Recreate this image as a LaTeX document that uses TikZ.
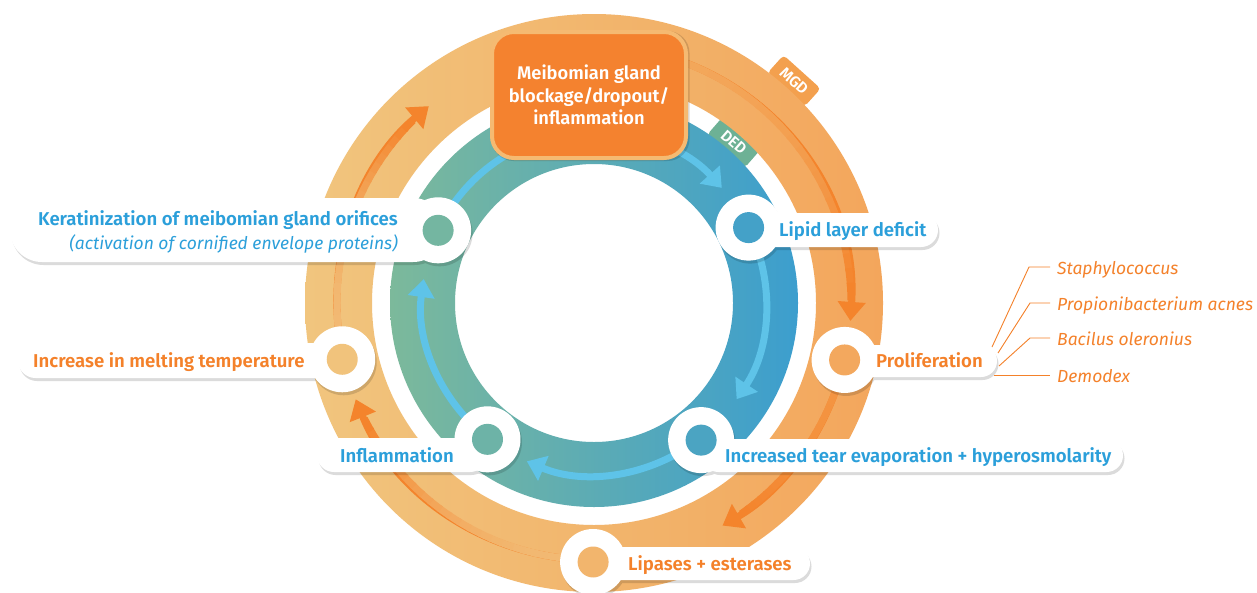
\documentclass[tikz,border=0pt]{standalone}
\usepackage{fontspec}
\setmainfont{Fira Sans}[BoldFont={Fira Sans SemiBold}, BoldItalicFont={Fira Sans SemiBold Italic}]
\usetikzlibrary{arrows.meta}
\definecolor{orL}{HTML}{F1C57E}
\definecolor{orR}{HTML}{F3A65C}
\definecolor{orTrk}{HTML}{F4842C}
\definecolor{orTrkL}{HTML}{F2BA74}
\definecolor{tealL}{HTML}{7CB99B}
\definecolor{tealR}{HTML}{3C9ECE}
\definecolor{bluTrk}{HTML}{5EC3E8}
\definecolor{tBlue}{HTML}{2B9FDA}
\definecolor{tOrange}{HTML}{F4812A}
\definecolor{boxFill}{HTML}{F4822F}
\definecolor{boxLine}{HTML}{F5BA72}
\definecolor{mgdC}{HTML}{F3A04E}
\definecolor{dedC}{HTML}{6DB195}
\newcommand\orarc[4]{%
  \draw[line width=7pt, orTrk, -{Triangle[width=27pt,length=19pt]}] (#2:#1) arc[start angle=#2, end angle=#3, radius=#1];
  \pgfmathsetmacro\myaend{#3+19/#1*57.3+1}
  \foreach \k in {0,...,23}{
    \pgfmathsetmacro\mysa{#2+(\myaend-#2)*\k/24}
    \pgfmathsetmacro\myea{#2+(\myaend-#2)*(\k+1.2)/24}
    \pgfmathtruncatemacro\myp{#4+(100-#4)*(\k/23)^2}
    \draw[line width=7pt, orTrk!\myp!orTrkL] (\mysa:#1) arc[start angle=\mysa, end angle=\myea, radius=#1];
  }
}
\begin{document}
\begin{tikzpicture}[x=1pt,y=-1pt,
  hub/.style={circle, fill=white, minimum size=66pt, inner sep=0pt},
  dot/.style={circle, minimum size=31pt, inner sep=0pt},
  lbl/.style={font=\fontsize{18.6}{20}\selectfont\bfseries, inner sep=0pt},
  bug/.style={font=\fontsize{17.5}{20}\selectfont\itshape, text=tOrange, inner sep=0pt, anchor=base west},
  tabbox/.style={rounded corners=4pt, minimum width=50pt, minimum height=24pt, inner sep=0pt, text=white, font=\fontsize{15.5}{15.5}\selectfont\bfseries},
  trkB/.style={line width=7pt, bluTrk, -{Triangle[width=26pt,length=18pt]}},
  link/.style={tOrange, line width=0.9pt},
  topbox/.style={draw=boxLine, line width=4pt, fill=boxFill, rounded corners=22pt, minimum width=194pt, minimum height=126pt, align=center, text=white, font=\fontsize{18.3}{22.5}\selectfont\bfseries}
]
\useasboundingbox (0,0) rectangle (1257,592);
\fill[white] (0,0) rectangle (1257,592);

\begin{scope}[shift={(594,303)}, y=1pt]
  \coordinate (kerat) at (155:172);
  \coordinate (lipid) at (26:172);
  \coordinate (tear) at (-52:174);
  \coordinate (inflam) at (232:173);
  \coordinate (melt) at (192.6:258);
  \coordinate (prolif) at (-12.8:257);
  \coordinate (lipase) at (-90.2:259);
  \node[tabbox, fill=mgdC, rotate=-42] (mgd) at (48:299) {MGD};
  \node[tabbox, fill=dedC, rotate=-41] (ded) at (49:213) {DED};
  \shade[left color=orL, right color=orR, even odd rule] (0,0) circle[radius=289] (0,0) circle[radius=222];
  \shade[left color=tealL, right color=tealR, even odd rule] (0,0) circle[radius=204] (0,0) circle[radius=139];
  \orarc{257}{80}{-4}{35}
  \orarc{257}{-13}{-60}{70}
  \orarc{257}{-90}{-158}{0}
  \orarc{257}{192}{130}{0}
  \draw[trkB] (155:172) arc[start angle=155, end angle=42, radius=172];
  \draw[trkB] (26:172) arc[start angle=26, end angle=-34, radius=172];
  \draw[trkB] (-52:172) arc[start angle=-52, end angle=-113, radius=172];
  \draw[trkB] (232:172) arc[start angle=232, end angle=172, radius=172];
\end{scope}

% shadows
\begin{scope}[transparency group, opacity=0.14]
  \begin{scope}[shift={(1.5,3)}]
    \fill[black, rounded corners=32pt] (10,198) rectangle (445,262);
    \fill[black, rounded corners=17.5pt] (18,343) rectangle (340,378);
    \fill[black, rounded corners=17pt] (748,213) rectangle (938,247);
    \fill[black, rounded corners=16pt] (845,345) rectangle (997,377);
    \fill[black, rounded corners=16.5pt] (702,439) rectangle (1123,472);
    \fill[black, rounded corners=17pt] (317,438) rectangle (487,472);
    \fill[black, rounded corners=16.5pt] (593,547) rectangle (810,580);
    \fill[black, rounded corners=22pt] (490,28) rectangle (688,158);
  \end{scope}
  \foreach \c in {kerat,lipid,tear,inflam,melt,prolif,lipase}{
    \fill[black] (\c) ++(1.5,3) circle[radius=33];
  }
\end{scope}

% top box
\node[topbox] (top) at (589,95) {Meibomian gland\\blockage/dropout/\\inflammation};

% pills
\fill[white, rounded corners=32pt] (10,198) rectangle (445,262);
\fill[white, rounded corners=17.5pt] (18,343) rectangle (340,378);
\fill[white, rounded corners=17pt] (748,213) rectangle (938,247);
\fill[white, rounded corners=16pt] (845,345) rectangle (997,377);
\fill[white, rounded corners=16.5pt] (702,439) rectangle (1123,472);
\fill[white, rounded corners=17pt] (317,438) rectangle (487,472);
\fill[white, rounded corners=16.5pt] (593,547) rectangle (810,580);

% hubs and dots
\node[hub] (keratH) at (kerat) {};
\node[hub] (lipidH) at (lipid) {};
\node[hub] (tearH) at (tear) {};
\node[hub] (inflamH) at (inflam) {};
\node[hub] (meltH) at (melt) {};
\node[hub] (prolifH) at (prolif) {};
\node[hub] (lipaseH) at (lipase) {};
\node[dot, fill=tealR!12!tealL] (keratD) at (kerat) {};
\node[dot, fill=tealR!88!tealL] (lipidD) at (lipid) {};
\node[dot, fill=tealR!76!tealL] (tearD) at (tear) {};
\node[dot, fill=tealR!24!tealL] (inflamD) at (inflam) {};
\node[dot, fill=orR!6!orL] (meltD) at (melt) {};
\node[dot, fill=orR!93!orL] (prolifD) at (prolif) {};
\node[dot, fill=orR!50!orL] (lipaseD) at (lipase) {};

% labels
\node[lbl, text=tBlue, anchor=base east] (keratT) at (398,225) {Keratinization of meibomian gland orifices};
\node[lbl, text=tBlue, anchor=base east, font=\fontsize{17.5}{20}\selectfont\itshape] (keratT2) at (398,249) {(activation of cornified envelope proteins)};
\node[lbl, text=tOrange, anchor=base west] (meltT) at (33,367) {Increase in melting temperature};
\node[lbl, text=tBlue, anchor=base west] (lipidT) at (779,236) {Lipid layer deficit};
\node[lbl, text=tOrange, anchor=base west] (prolifT) at (876,367) {Proliferation};
\node[lbl, text=tBlue, anchor=base west] (tearT) at (725,462) {Increased tear evaporation + hyperosmolarity};
\node[lbl, text=tBlue, anchor=base west] (inflamT) at (340,462) {Inflammation};
\node[lbl, text=tOrange, anchor=base west] (lipaseT) at (628,570) {Lipases + esterases};

% bacteria
\node[bug] (staph) at (1057,274) {Staphylococcus};
\node[bug] (propi) at (1057,310) {Propionibacterium acnes};
\node[bug] (bacil) at (1057,345) {Bacilus oleronius};
\node[bug] (demo) at (1057,382) {Demodex};
\coordinate (pa) at (992,347);
\coordinate (pb) at (998,353);
\coordinate (pc) at (999,366);
\coordinate (pd) at (994,375);
\draw[link] (pa) -- ([shift={(-28,-7)}]staph.base west) -- ([shift={(-7,-7)}]staph.base west);
\draw[link] (pb) -- ([shift={(-27,-7)}]propi.base west) -- ([shift={(-7,-7)}]propi.base west);
\draw[link] (pc) -- ([shift={(-27,-7)}]bacil.base west) -- ([shift={(-7,-7)}]bacil.base west);
\draw[link] (pd) -- ([shift={(-7,-7)}]demo.base west);
\end{tikzpicture}
\end{document}
